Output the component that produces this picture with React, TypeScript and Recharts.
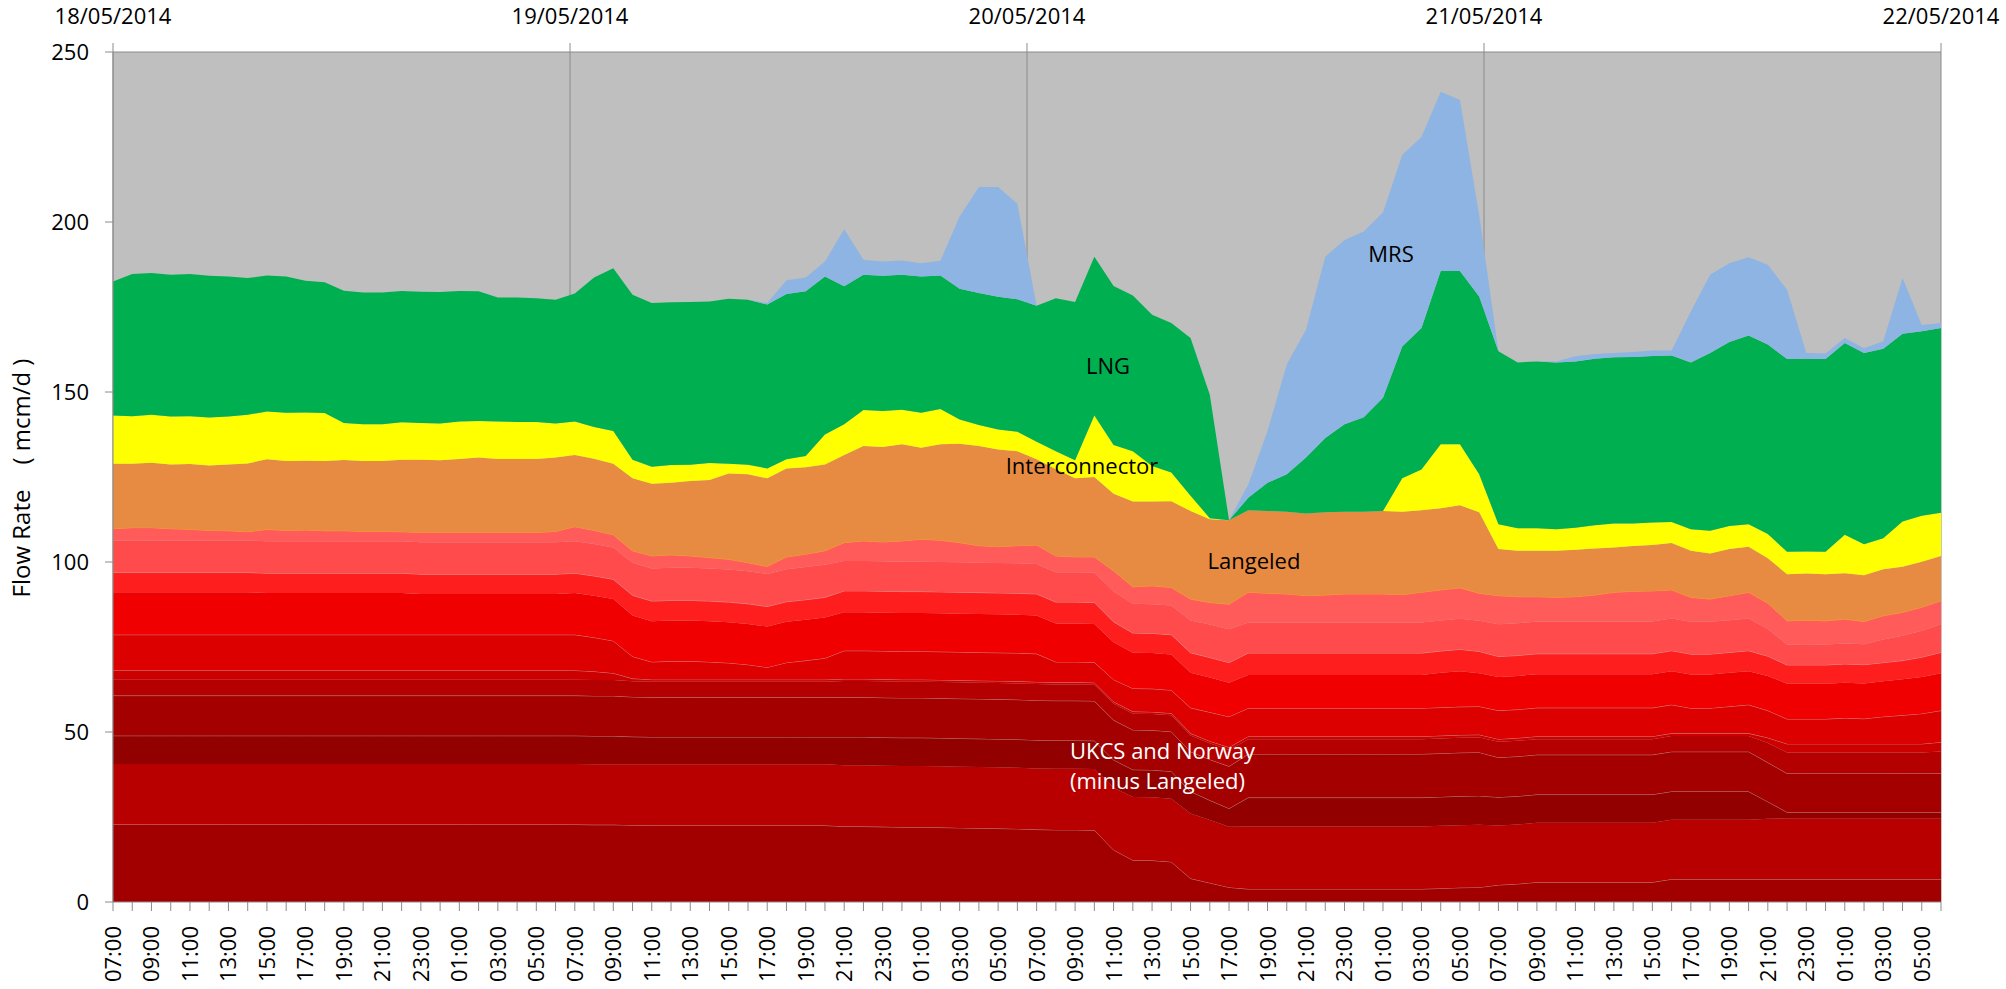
import React from "react";
import { AreaChart, Area, XAxis, YAxis, CartesianGrid } from "recharts";

// hourly categories, 18/05/2014 07:00 to 22/05/2014 06:00
const hours = [
  "07:00", "08:00", "09:00", "10:00", "11:00", "12:00", "13:00", "14:00", "15:00", "16:00", "17:00", "18:00", "19:00", "20:00", "21:00", "22:00", "23:00", "00:00", "01:00", "02:00", "03:00", "04:00", "05:00", "06:00",
  "07:00", "08:00", "09:00", "10:00", "11:00", "12:00", "13:00", "14:00", "15:00", "16:00", "17:00", "18:00", "19:00", "20:00", "21:00", "22:00", "23:00", "00:00", "01:00", "02:00", "03:00", "04:00", "05:00", "06:00",
  "07:00", "08:00", "09:00", "10:00", "11:00", "12:00", "13:00", "14:00", "15:00", "16:00", "17:00", "18:00", "19:00", "20:00", "21:00", "22:00", "23:00", "00:00", "01:00", "02:00", "03:00", "04:00", "05:00", "06:00",
  "07:00", "08:00", "09:00", "10:00", "11:00", "12:00", "13:00", "14:00", "15:00", "16:00", "17:00", "18:00", "19:00", "20:00", "21:00", "22:00", "23:00", "00:00", "01:00", "02:00", "03:00", "04:00", "05:00", "06:00",
];
const dates = ["18/05/2014", "19/05/2014", "20/05/2014", "21/05/2014", "22/05/2014"];
const yTicks = [0, 50, 100, 150, 200, 250];

// UKCS and Norway (minus Langeled) terminals, bottom to top, mcm/d
const ukcs1 = [
  22.8, 22.8, 22.8, 22.8, 22.8, 22.8, 22.8, 22.8, 22.8, 22.8, 22.8, 22.8, 22.8, 22.8, 22.8, 22.8, 22.8, 22.8, 22.8, 22.8, 22.8, 22.8, 22.8, 22.8,
  22.8, 22.7, 22.7, 22.6, 22.5, 22.5, 22.5, 22.5, 22.5, 22.5, 22.5, 22.5, 22.5, 22.5, 22.2, 22.2, 22.1, 22.0, 22.0, 21.9, 21.8, 21.7, 21.6, 21.5,
  21.3, 21.2, 21.2, 21.1, 15.3, 12.3, 12.2, 11.8, 6.9, 5.6, 4.3, 3.8, 3.8, 3.8, 3.8, 3.8, 3.8, 3.8, 3.8, 3.8, 3.8, 4.0, 4.2, 4.3,
  5.0, 5.3, 5.8, 5.8, 5.8, 5.8, 5.8, 5.8, 5.8, 6.7, 6.7, 6.7, 6.7, 6.7, 6.7, 6.7, 6.7, 6.7, 6.7, 6.7, 6.7, 6.7, 6.7, 6.7,
];
const ukcs2 = [
  17.8, 17.8, 17.8, 17.8, 17.8, 17.8, 17.8, 17.8, 17.8, 17.8, 17.8, 17.8, 17.8, 17.8, 17.8, 17.8, 17.8, 17.8, 17.8, 17.8, 17.8, 17.8, 17.8, 17.8,
  17.8, 17.8, 17.8, 17.9, 18.0, 18.0, 18.0, 18.0, 18.0, 18.0, 18.0, 18.0, 18.0, 18.0, 18.0, 18.0, 18.0, 18.0, 18.0, 18.0, 18.0, 18.0, 18.0, 18.0,
  18.0, 18.0, 18.0, 18.0, 18.3, 18.6, 18.6, 18.6, 19.1, 18.5, 17.8, 18.4, 18.4, 18.4, 18.4, 18.4, 18.4, 18.4, 18.4, 18.4, 18.4, 18.4, 18.4, 18.4,
  17.5, 17.5, 17.5, 17.5, 17.5, 17.5, 17.5, 17.5, 17.5, 17.5, 17.5, 17.5, 17.5, 17.5, 17.8, 17.9, 17.9, 17.9, 17.9, 17.9, 17.9, 17.9, 17.9, 17.9,
];
const ukcs3 = [
  8.3, 8.3, 8.3, 8.3, 8.3, 8.3, 8.3, 8.3, 8.3, 8.3, 8.3, 8.3, 8.3, 8.3, 8.3, 8.3, 8.3, 8.3, 8.3, 8.3, 8.3, 8.3, 8.3, 8.3,
  8.3, 8.3, 8.3, 8.1, 8.0, 8.0, 8.0, 8.0, 8.0, 8.0, 8.0, 8.0, 8.0, 8.0, 8.3, 8.3, 8.3, 8.3, 8.3, 8.3, 8.3, 8.3, 8.3, 8.3,
  8.3, 8.3, 8.3, 8.3, 8.2, 8.0, 8.0, 8.0, 6.5, 5.8, 5.4, 8.5, 8.5, 8.5, 8.5, 8.5, 8.5, 8.5, 8.5, 8.5, 8.5, 8.5, 8.5, 8.5,
  8.3, 8.3, 8.3, 8.3, 8.3, 8.3, 8.3, 8.3, 8.3, 8.3, 8.3, 8.3, 8.3, 8.3, 5.0, 1.8, 1.8, 1.8, 1.8, 1.8, 1.8, 1.8, 1.8, 1.8,
];
const ukcs4 = [
  11.8, 11.8, 11.8, 11.8, 11.8, 11.8, 11.8, 11.8, 11.8, 11.8, 11.8, 11.8, 11.8, 11.8, 11.8, 11.8, 11.8, 11.8, 11.8, 11.8, 11.8, 11.8, 11.8, 11.8,
  11.8, 11.8, 11.8, 11.7, 11.7, 11.7, 11.7, 11.7, 11.7, 11.7, 11.7, 11.7, 11.7, 11.7, 11.7, 11.7, 11.7, 11.7, 11.7, 11.7, 11.7, 11.7, 11.7, 11.7,
  11.7, 11.7, 11.7, 11.7, 11.7, 11.7, 11.7, 11.7, 11.7, 12.0, 12.4, 12.8, 12.8, 12.8, 12.8, 12.8, 12.8, 12.8, 12.8, 12.8, 12.8, 12.8, 12.8, 12.8,
  11.7, 11.7, 11.7, 11.7, 11.7, 11.7, 11.7, 11.7, 11.7, 11.7, 11.7, 11.7, 11.7, 11.7, 11.5, 11.4, 11.4, 11.4, 11.4, 11.4, 11.4, 11.4, 11.4, 11.4,
];
const ukcs5 = [
  4.7, 4.7, 4.7, 4.7, 4.7, 4.7, 4.7, 4.7, 4.7, 4.7, 4.7, 4.7, 4.7, 4.7, 4.7, 4.7, 4.7, 4.7, 4.7, 4.7, 4.7, 4.7, 4.7, 4.7,
  4.7, 4.7, 4.7, 4.6, 4.6, 4.6, 4.6, 4.6, 4.6, 4.6, 4.6, 4.6, 4.6, 4.6, 4.8, 4.8, 4.8, 4.8, 4.8, 4.8, 4.8, 4.8, 4.8, 4.8,
  4.8, 4.8, 4.8, 4.8, 4.8, 4.8, 4.8, 4.8, 4.8, 4.8, 4.8, 4.4, 4.4, 4.4, 4.4, 4.4, 4.4, 4.4, 4.4, 4.4, 4.4, 4.4, 4.4, 4.4,
  4.6, 4.6, 4.6, 4.6, 4.6, 4.6, 4.6, 4.6, 4.6, 4.6, 4.6, 4.6, 4.6, 4.6, 5.8, 6.2, 6.2, 6.2, 6.2, 6.2, 6.2, 6.2, 6.2, 6.5,
];
const ukcs6 = [
  2.7, 2.7, 2.7, 2.7, 2.7, 2.7, 2.7, 2.7, 2.7, 2.7, 2.7, 2.7, 2.7, 2.7, 2.7, 2.7, 2.7, 2.7, 2.7, 2.7, 2.7, 2.7, 2.7, 2.7,
  2.7, 2.5, 2.0, 0.8, 0.6, 0.6, 0.6, 0.6, 0.6, 0.6, 0.6, 0.6, 0.6, 0.6, 0.6, 0.6, 0.6, 0.6, 0.6, 0.6, 0.6, 0.6, 0.6, 0.6,
  0.6, 0.6, 0.6, 0.6, 0.6, 0.6, 0.6, 0.6, 0.6, 0.6, 0.8, 0.8, 0.8, 0.8, 0.8, 0.8, 0.8, 0.8, 0.8, 0.8, 0.8, 0.8, 0.8, 0.8,
  0.8, 0.8, 0.8, 0.8, 0.8, 0.8, 0.8, 0.8, 0.8, 0.8, 0.8, 0.8, 0.8, 0.8, 1.5, 2.5, 2.5, 2.5, 2.5, 2.5, 2.5, 2.5, 2.5, 2.7,
];
const ukcs7 = [
  10.5, 10.5, 10.5, 10.5, 10.5, 10.5, 10.5, 10.5, 10.5, 10.5, 10.5, 10.5, 10.5, 10.5, 10.5, 10.5, 10.5, 10.5, 10.5, 10.5, 10.5, 10.5, 10.5, 10.5,
  10.5, 10.0, 9.5, 6.5, 5.2, 5.4, 5.4, 5.2, 4.9, 4.4, 3.6, 5.0, 5.6, 6.3, 8.3, 8.3, 8.3, 8.3, 8.3, 8.3, 8.3, 8.3, 8.3, 8.3,
  8.3, 6.0, 6.0, 6.0, 6.5, 6.8, 6.8, 6.8, 7.5, 8.5, 9.0, 8.3, 8.3, 8.3, 8.3, 8.3, 8.3, 8.3, 8.3, 8.3, 8.3, 8.3, 8.3, 8.3,
  8.4, 8.4, 8.4, 8.4, 8.4, 8.4, 8.4, 8.4, 8.4, 8.4, 7.4, 7.4, 7.9, 8.4, 8.0, 7.3, 7.3, 7.3, 7.6, 7.4, 8.0, 8.4, 8.9, 9.3,
];
const ukcs8 = [
  12.5, 12.5, 12.5, 12.5, 12.5, 12.5, 12.5, 12.5, 12.3, 12.3, 12.3, 12.3, 12.3, 12.3, 12.3, 12.3, 12.0, 12.0, 12.0, 12.0, 12.0, 12.0, 12.0, 12.0,
  12.3, 12.3, 12.3, 12.1, 12.0, 12.0, 12.0, 12.0, 12.0, 12.0, 12.0, 12.0, 12.0, 12.0, 11.3, 11.3, 11.3, 11.3, 11.3, 11.3, 11.3, 11.3, 11.3, 11.3,
  11.3, 11.3, 11.3, 11.3, 11.0, 10.5, 10.5, 10.5, 10.3, 10.2, 10.0, 9.8, 9.8, 9.8, 9.8, 9.8, 9.8, 9.8, 9.8, 9.8, 9.8, 10.2, 10.5, 9.8,
  9.9, 9.9, 9.9, 9.9, 9.9, 9.9, 9.9, 9.9, 9.9, 9.9, 9.9, 9.9, 9.9, 9.9, 10.2, 10.4, 10.4, 10.4, 10.4, 10.4, 10.4, 10.6, 10.8, 11.0,
];
const ukcs9 = [
  5.8, 5.8, 5.8, 5.8, 5.8, 5.8, 5.8, 5.8, 5.8, 5.8, 5.8, 5.8, 5.8, 5.8, 5.8, 5.8, 5.8, 5.8, 5.8, 5.8, 5.8, 5.8, 5.8, 5.8,
  5.8, 5.8, 5.8, 5.9, 5.9, 5.9, 5.9, 5.9, 5.9, 5.9, 5.9, 5.9, 5.9, 5.9, 6.3, 6.3, 6.3, 6.3, 6.3, 6.3, 6.3, 6.3, 6.3, 6.3,
  6.3, 6.3, 6.3, 6.3, 6.0, 5.8, 5.8, 5.8, 5.9, 5.9, 5.9, 6.4, 6.4, 6.4, 6.4, 6.4, 6.4, 6.4, 6.4, 6.4, 6.4, 6.4, 6.4, 6.4,
  6.0, 6.0, 6.0, 6.0, 6.0, 6.0, 6.0, 6.0, 6.0, 6.0, 6.0, 6.0, 6.0, 6.0, 5.8, 5.5, 5.5, 5.5, 5.5, 5.5, 5.5, 5.5, 5.8, 6.1,
];
const ukcs10 = [
  9.4, 9.4, 9.4, 9.4, 9.4, 9.4, 9.4, 9.4, 9.4, 9.4, 9.4, 9.4, 9.4, 9.4, 9.4, 9.4, 9.4, 9.4, 9.4, 9.4, 9.4, 9.4, 9.4, 9.4,
  9.4, 9.4, 9.4, 9.6, 9.6, 9.6, 9.6, 9.6, 9.6, 9.6, 9.6, 9.6, 9.6, 9.6, 8.8, 8.8, 8.8, 8.8, 8.8, 8.8, 8.8, 8.8, 8.8, 8.8,
  8.8, 8.8, 8.8, 8.8, 9.0, 8.6, 8.6, 8.6, 9.5, 9.7, 9.8, 9.0, 9.0, 9.0, 9.0, 9.0, 9.0, 9.0, 9.0, 9.0, 9.0, 9.0, 9.0, 9.0,
  9.5, 9.5, 9.5, 9.5, 9.5, 9.5, 9.5, 9.5, 9.5, 9.5, 9.5, 9.5, 9.5, 9.5, 8.0, 6.0, 6.1, 6.0, 6.0, 6.0, 6.8, 7.3, 7.8, 8.3,
];
const ukcs11 = [
  3.5, 3.8, 3.8, 3.5, 3.3, 3.0, 2.9, 2.6, 3.5, 3.2, 3.3, 3.1, 3.1, 2.9, 2.9, 2.8, 2.9, 2.9, 2.9, 2.9, 2.9, 2.9, 2.9, 3.2,
  4.3, 4.0, 3.7, 3.5, 3.7, 3.8, 3.5, 3.2, 3.0, 2.5, 2.2, 3.6, 3.8, 4.1, 5.4, 5.9, 5.7, 6.1, 6.6, 6.4, 5.8, 5.0, 4.8, 5.2,
  5.6, 4.8, 4.5, 4.6, 6.0, 5.0, 5.4, 5.3, 6.3, 6.5, 7.4, 8.9, 8.6, 8.4, 7.9, 8.1, 8.4, 8.4, 8.4, 8.2, 8.9, 9.0, 9.1, 8.1,
  8.4, 7.8, 7.3, 7.1, 7.3, 7.8, 8.6, 8.9, 9.0, 8.4, 7.2, 6.7, 7.2, 7.7, 7.6, 7.0, 7.1, 7.0, 7.2, 6.7, 7.0, 6.9, 6.9, 6.9,
];
const langeled = [
  19.1, 18.8, 19.1, 18.9, 19.2, 19.1, 19.5, 20.1, 20.6, 20.4, 20.4, 20.5, 20.8, 20.7, 20.7, 21.2, 21.4, 21.2, 21.6, 22.0, 21.6, 21.6, 21.6, 21.7,
  21.1, 21.1, 20.9, 21.3, 21.2, 21.2, 22.0, 22.8, 25.2, 26.0, 25.9, 26.0, 25.6, 25.4, 25.8, 27.9, 27.9, 28.4, 26.9, 28.2, 29.1, 29.3, 28.6, 27.8,
  25.2, 25.5, 23.1, 23.5, 22.7, 25.1, 24.8, 25.4, 25.9, 24.5, 24.7, 24.1, 24.2, 24.2, 24.2, 24.3, 24.2, 24.2, 24.4, 24.4, 24.1, 24.0, 24.3, 23.8,
  13.7, 13.5, 13.5, 13.7, 13.8, 13.7, 13.2, 13.3, 13.5, 13.8, 13.7, 13.4, 13.7, 13.4, 13.2, 13.7, 13.7, 13.7, 13.5, 13.6, 13.7, 13.4, 13.4, 13.2,
];
const interconnector = [
  14.2, 14.0, 14.1, 14.1, 14.1, 14.1, 14.1, 14.3, 14.1, 14.2, 14.2, 14.1, 10.9, 10.8, 10.8, 11.0, 10.8, 10.8, 11.0, 10.8, 11.0, 10.9, 10.9, 10.0,
  9.8, 9.3, 9.6, 5.5, 5.0, 5.2, 4.8, 5.0, 2.9, 2.8, 2.9, 2.7, 3.3, 8.8, 9.0, 10.6, 10.6, 10.2, 10.3, 10.4, 7.1, 6.2, 5.9, 5.7,
  5.2, 5.3, 5.3, 18.1, 14.3, 14.8, 10.4, 8.4, 4.5, 0.3, 0, 0, 0, 0, 0, 0, 0, 0, 0, 9.8, 12.0, 18.8, 17.9, 11.2,
  7.3, 6.6, 6.6, 6.3, 6.5, 6.8, 7.0, 6.6, 6.6, 6.2, 6.3, 6.7, 6.8, 6.6, 7.1, 6.6, 6.5, 6.6, 11.3, 9.1, 9.1, 13.3, 13.5, 12.7,
];
const lng = [
  39.4, 41.8, 41.7, 41.7, 41.8, 41.7, 41.2, 40.2, 40.0, 40.1, 38.7, 38.5, 38.9, 38.8, 38.8, 38.6, 38.6, 38.7, 38.4, 38.1, 36.5, 36.6, 36.4, 36.4,
  37.7, 44.0, 47.9, 48.5, 48.2, 47.9, 47.9, 47.5, 48.5, 48.5, 48.2, 48.6, 48.4, 46.5, 40.6, 39.8, 39.8, 39.7, 40.1, 39.3, 38.5, 38.8, 39.0, 39.0,
  40.0, 45.0, 46.6, 46.7, 46.8, 45.8, 44.5, 44.0, 46.4, 36.3, 0, 3.7, 8.3, 11.0, 16.4, 21.9, 25.7, 27.8, 33.3, 38.8, 41.6, 51.0, 51.0, 52.3,
  50.9, 48.8, 49.1, 49.1, 48.9, 49.0, 48.9, 49.0, 49.0, 48.9, 49.1, 52.3, 54.1, 55.5, 55.8, 56.7, 56.7, 56.7, 56.4, 56.3, 55.7, 55.2, 54.3, 54.3,
];
const mrs = [
  0, 0, 0, 0, 0, 0, 0, 0, 0, 0, 0, 0, 0, 0, 0, 0, 0, 0, 0, 0, 0, 0, 0, 0,
  0, 0, 0, 0, 0, 0, 0, 0, 0, 0, 0.5, 4.1, 4.1, 4.4, 16.8, 4.4, 4.2, 4.2, 3.9, 4.3, 21.2, 31.2, 32.3, 28.1,
  0, 0, 0, 0, 0, 0, 0, 0, 0, 0, 0, 3.9, 15.2, 32.3, 37.6, 53.3, 54.2, 54.6, 54.5, 56.3, 56.2, 52.7, 50.3, 23.9,
  0, 0, 0, 0.3, 1.5, 1.4, 1.3, 1.5, 1.6, 1.5, 15.0, 23.0, 23.2, 23.0, 23.4, 20.4, 1.7, 1.6, 1.5, 1.4, 2.2, 16.4, 1.8, 1.5,
];

const edge = "rgba(200,200,200,0.55)";
const layers = [
  { key: "u1", values: ukcs1, color: "#A20000", stroke: edge },
  { key: "u2", values: ukcs2, color: "#B80000" },
  { key: "u3", values: ukcs3, color: "#920000", stroke: edge },
  { key: "u4", values: ukcs4, color: "#A40000", stroke: edge },
  { key: "u5", values: ukcs5, color: "#B40000" },
  { key: "u6", values: ukcs6, color: "#CC0000", stroke: edge },
  { key: "u7", values: ukcs7, color: "#DC0000", stroke: edge },
  { key: "u8", values: ukcs8, color: "#F00000" },
  { key: "u9", values: ukcs9, color: "#FF1E1E", stroke: edge },
  { key: "u10", values: ukcs10, color: "#FF4B4B" },
  { key: "u11", values: ukcs11, color: "#FF5B5B", stroke: "#FF9A2E" },
  { key: "langeled", values: langeled, color: "#E88B42" },
  { key: "interconnector", values: interconnector, color: "#FFFF00" },
  { key: "lng", values: lng, color: "#00B050" },
  { key: "mrs", values: mrs, color: "#8DB4E2" },
];

const rows = hours.map((hour, i) => {
  const row: Record<string, number | string> = { idx: i, hour };
  layers.forEach((l) => {
    row[l.key] = l.values[i];
  });
  return row;
});

const lastIdx = hours.length - 1;
const hourTicks = hours.map((_, i) => i);
const dateTicks = dates.map((_, k) => (k * lastIdx) / (dates.length - 1));

const axisGrey = "#8c8c8c";
const font = "'Open Sans', 'DejaVu Sans', sans-serif";

function HourTick(props: any) {
  const { x, y, payload } = props;
  const i = payload.value;
  if (i % 2 !== 0) return null;
  const ax = x + 8;
  return (
    <text x={ax} y={y} transform={`rotate(-90 ${ax} ${y})`} textAnchor="end" fontSize={22} fill="#000">
      {hours[i]}
    </text>
  );
}

function DateTick(props: any) {
  const { x, y, payload } = props;
  const k = Math.round((payload.value * (dates.length - 1)) / lastIdx);
  return (
    <text x={x} y={y} textAnchor="middle" fontSize={22} fill="#000">
      {dates[k]}
    </text>
  );
}

const note = (left: number, top: number, color = "#000"): React.CSSProperties => ({
  position: "absolute",
  left,
  top,
  transform: "translate(-50%, -50%)",
  fontSize: 22,
  lineHeight: 1,
  color,
  whiteSpace: "nowrap",
});

export default function App() {
  return (
    <div style={{ position: "absolute", left: 0, top: 0, width: 2006, height: 989, background: "#fff", fontFamily: font }}>
      <AreaChart width={2006} height={989} data={rows} margin={{ top: 0, right: 65, bottom: 0, left: 0 }}>
        <CartesianGrid xAxisId="top" horizontal={false} stroke={axisGrey} fill="#BFBFBF" fillOpacity={1} />
        <XAxis
          dataKey="idx"
          type="number"
          domain={[0, lastIdx]}
          ticks={hourTicks}
          interval={0}
          height={87}
          tickSize={9}
          tickMargin={15}
          stroke={axisGrey}
          tick={<HourTick />}
        />
        <XAxis
          xAxisId="top"
          orientation="top"
          dataKey="idx"
          type="number"
          domain={[0, lastIdx]}
          ticks={dateTicks}
          interval={0}
          height={52}
          tickSize={9}
          tickMargin={19}
          stroke={axisGrey}
          tick={<DateTick />}
        />
        <YAxis
          type="number"
          domain={[0, 250]}
          ticks={yTicks}
          interval={0}
          width={113}
          tickSize={8}
          tickMargin={16}
          stroke={axisGrey}
          tick={{ fontSize: 22, fill: "#000" }}
        />
        {layers.map((l) => (
          <Area
            key={l.key}
            type="linear"
            dataKey={l.key}
            stackId="flow"
            fill={l.color}
            fillOpacity={1}
            stroke={l.stroke ?? "none"}
            strokeWidth={1}
            dot={false}
            activeDot={false}
            isAnimationActive={false}
          />
        ))}
      </AreaChart>

      <div style={{ ...note(21, 478), fontSize: 24, whiteSpace: "pre", transform: "translate(-50%, -50%) rotate(-90deg)" }}>
        {"Flow Rate    ( mcm/d )"}
      </div>
      <div style={note(1108, 365)}>LNG</div>
      <div style={note(1082, 465)}>Interconnector</div>
      <div style={note(1254, 560)}>Langeled</div>
      <div style={note(1391, 253)}>MRS</div>
      <div style={{ ...note(1070, 750, "#fff"), transform: "translateY(-50%)" }}>UKCS and Norway</div>
      <div style={{ ...note(1070, 780, "#fff"), transform: "translateY(-50%)" }}>(minus Langeled)</div>
    </div>
  );
}
